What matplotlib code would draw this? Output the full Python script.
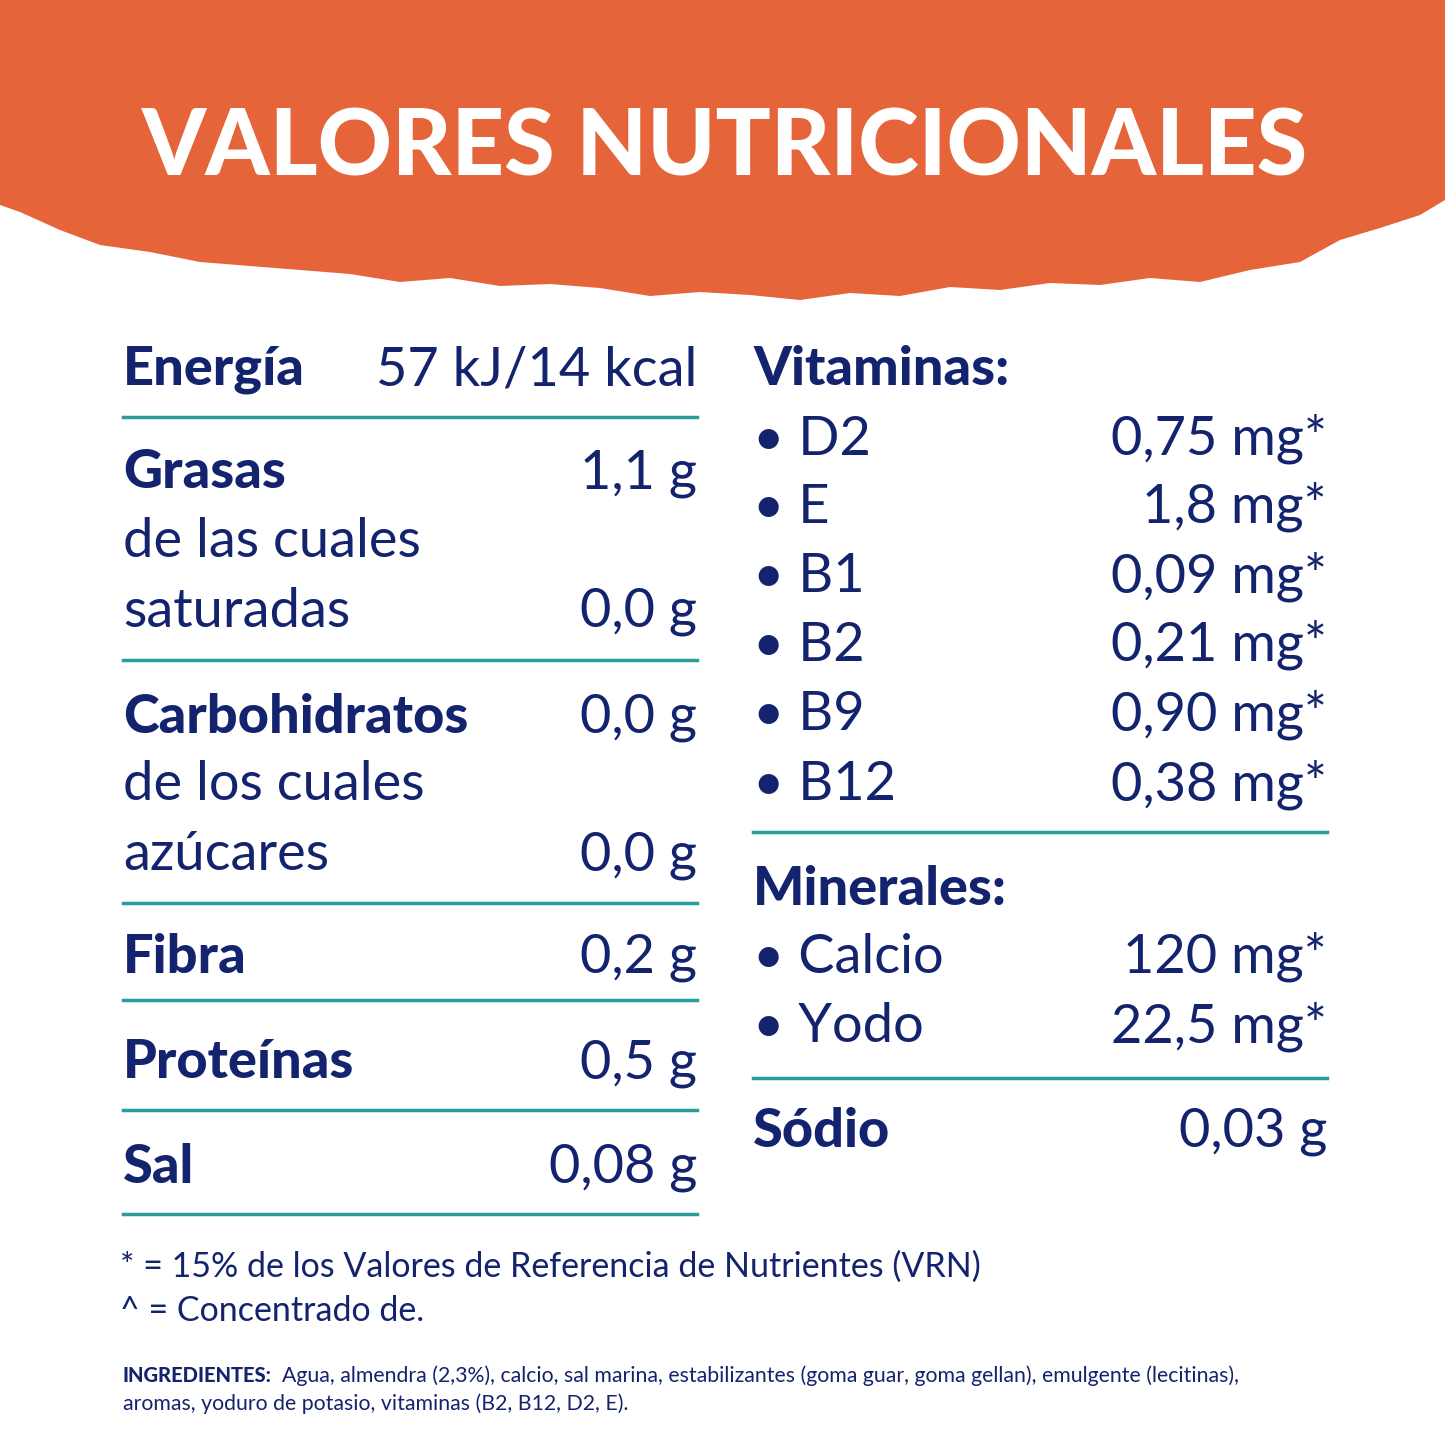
import matplotlib.pyplot as plt
from matplotlib.patches import Polygon

NAVY = '#14236e'
TEAL = '#2a9d9a'
ORANGE = '#e5643a'
FONT = 'Lato'

title = 'VALORES NUTRICIONALES'

# left column: (label, value, bold)
left_rows = [
    ('Energía', '57 kJ/14 kcal', True),
    ('Grasas', '1,1 g', True),
    ('de las cuales', '', False),
    ('saturadas', '0,0 g', False),
    ('Carbohidratos', '0,0 g', True),
    ('de los cuales', '', False),
    ('azúcares', '0,0 g', False),
    ('Fibra', '0,2 g', True),
    ('Proteínas', '0,5 g', True),
    ('Sal', '0,08 g', True),
]
left_base = [385, 488, 557, 627, 733, 800, 870, 973, 1078, 1183]
left_lines = [417, 660, 903, 1000, 1110, 1214]

right_rows = [
    ('Vitaminas:', '', True),
    ('• D2', '0,75 mg*', False),
    ('• E', '1,8 mg*', False),
    ('• B1', '0,09 mg*', False),
    ('• B2', '0,21 mg*', False),
    ('• B9', '0,90 mg*', False),
    ('• B12', '0,38 mg*', False),
    ('Minerales:', '', True),
    ('• Calcio', '120 mg*', False),
    ('• Yodo', '22,5 mg*', False),
    ('Sódio', '0,03 g', True),
]
right_base = [385, 455, 523, 592, 661, 730, 800, 905, 973, 1042, 1147]
right_lines = [832, 1078]

notes = ['* = 15% de los Valores de Referencia de Nutrientes (VRN)',
         '^ = Concentrado de.']
ingredients = ['Agua, almendra (2,3%), calcio, sal marina, estabilizantes (goma guar, goma gellan), emulgente (lecitinas),',
               'aromas, yoduro de potasio, vitaminas (B2, B12, D2, E).']

fig = plt.figure(figsize=(14.45, 14.45), dpi=100)
ax = fig.add_axes([0, 0, 1, 1])
ax.set_xlim(0, 1445)
ax.set_ylim(1445, 0)
ax.axis('off')

# rough orange banner
edge_x = [1445, 1420, 1380, 1340, 1300, 1250, 1200, 1150, 1100, 1050, 1000, 950, 900, 850,
          800, 750, 700, 650, 600, 550, 500, 450, 400, 350, 300, 250, 200, 150, 100, 60, 20, 0]
edge_y = [200, 215, 228, 240, 262, 270, 282, 278, 285, 283, 290, 287, 296, 293, 300, 295,
          292, 296, 288, 284, 286, 278, 282, 274, 270, 266, 262, 252, 245, 230, 212, 205]
ax.add_patch(Polygon([(0, 0), (1445, 0)] + list(zip(edge_x, edge_y)), closed=True,
                     facecolor=ORANGE, edgecolor='none'))
ax.text(725, 175, title, ha='center', va='baseline', color='white',
        fontsize=66, fontweight='black', family=FONT)

def column(rows, bases, lines, x0, x1):
    for (lab, val, bold), y in zip(rows, bases):
        ax.text(x0, y, lab, ha='left', va='baseline', color=NAVY, fontsize=39,
                fontweight='black' if bold else 'normal', family=FONT)
        if val:
            ax.text(x1, y, val, ha='right', va='baseline', color=NAVY, fontsize=39,
                    family=FONT)
    for y in lines:
        ax.plot([x0, x1], [y, y], color=TEAL, lw=2.5)

column(left_rows, left_base, left_lines, 123, 697)
column(right_rows, right_base, right_lines, 753, 1327)

for s, y in zip(notes, [1277, 1321]):
    ax.text(120, y, s, ha='left', va='baseline', color=NAVY, fontsize=24.5, family=FONT)

ax.text(123, 1382, 'INGREDIENTES:', ha='left', va='baseline', color=NAVY,
        fontsize=14.5, fontweight='black', family=FONT)
ax.text(282, 1382, ingredients[0], ha='left', va='baseline', color=NAVY,
        fontsize=15.3, family=FONT)
ax.text(123, 1410, ingredients[1], ha='left', va='baseline', color=NAVY,
        fontsize=15.3, family=FONT)

fig.savefig('out.png', dpi=100, facecolor='white')
